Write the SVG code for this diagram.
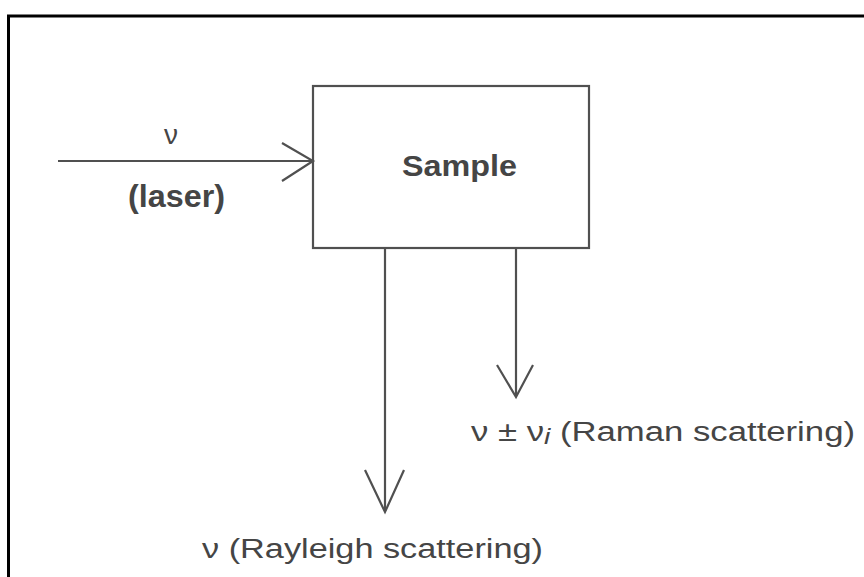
<svg xmlns="http://www.w3.org/2000/svg" width="864" height="577" viewBox="0 0 864 577">
<style>
.ln{stroke:#505050;stroke-width:2.2;fill:none}
.hd{stroke:#505050;stroke-width:2.2;fill:none;stroke-linejoin:miter}
.t{font-family:"Liberation Sans",Arial,sans-serif;fill:#454545}
.b{font-weight:bold}
</style>
<rect width="864" height="577" fill="#fff"/>
<path d="M8.5,577 V16 H864" stroke="#000" stroke-width="3" fill="none"/>
<g id="sample">
<rect x="313" y="86" width="276" height="162" class="ln" fill="#fff"/>
<text x="402" y="176" class="t b" font-size="30" textLength="115" lengthAdjust="spacingAndGlyphs">Sample</text>
</g>
<g id="connectors">
<g id="laser">
<line x1="58" y1="161" x2="312" y2="161" class="ln"/>
<polyline points="282,143 313,161 282,181" class="hd"/>
</g>
<g id="rayleigh">
<line x1="385" y1="248" x2="385" y2="511" class="ln"/>
<polyline points="365,470 385,512 404,470" class="hd"/>
</g>
<g id="raman">
<line x1="516" y1="248" x2="516" y2="396" class="ln"/>
<polyline points="497,365 516,397 533,365" class="hd"/>
</g>
</g>
<g id="labels">
<text x="171" y="144" text-anchor="middle" class="t" font-size="28">ν</text>
<text x="128" y="207" class="t b" font-size="31" textLength="97" lengthAdjust="spacingAndGlyphs">(laser)</text>
<text x="202" y="558" class="t" font-size="27" textLength="341" lengthAdjust="spacingAndGlyphs">ν (Rayleigh scattering)</text>
<text x="471" y="441" class="t" font-size="27" textLength="384" lengthAdjust="spacingAndGlyphs">ν ± ν<tspan font-style="italic" font-size="22" dy="3">i</tspan><tspan dy="-3"> (Raman scattering)</tspan></text>
</g>
</svg>
